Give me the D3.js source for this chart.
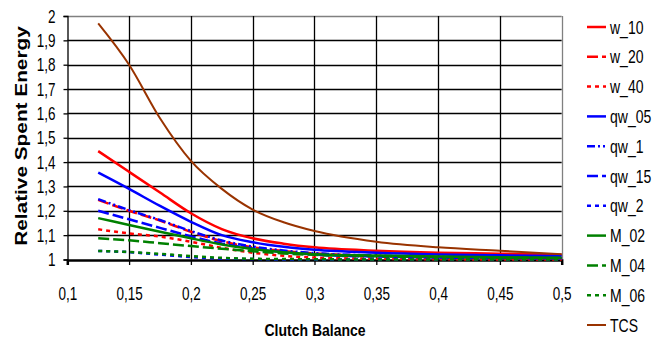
<!DOCTYPE html>
<html>
<head>
<meta charset="utf-8">
<script src="https://cdn.jsdelivr.net/npm/d3@7"></script>
<style>
  body { margin: 0; background: #fff; }
  svg text { font-family: "Liberation Sans", Arial, sans-serif; }
</style>
</head>
<body>
<div id="chart"></div>
<script>
// clutch balance values where the curves are sampled
const balance = [0.125, 0.15, 0.175, 0.2, 0.225, 0.25, 0.275, 0.3, 0.35, 0.4, 0.45, 0.5];

const w_10  = [1.445, 1.36, 1.275, 1.19, 1.125, 1.087, 1.065, 1.05, 1.036, 1.028, 1.024, 1.019];
const w_20  = [1.245, 1.2, 1.16, 1.114, 1.075, 1.05, 1.035, 1.025, 1.015, 1.01, 1.007, 1.005];
const w_40  = [1.124, 1.107, 1.094, 1.073, 1.048, 1.028, 1.015, 1.008, 1.003, 1.001, 1.0, 1.0];
const qw_05 = [1.357, 1.29, 1.22, 1.155, 1.1, 1.071, 1.052, 1.04, 1.028, 1.021, 1.017, 1.014];
const qw_1  = [1.248, 1.203, 1.162, 1.117, 1.078, 1.053, 1.037, 1.026, 1.016, 1.011, 1.008, 1.006];
const qw_15 = [1.2, 1.165, 1.13, 1.095, 1.065, 1.045, 1.03, 1.02, 1.012, 1.008, 1.006, 1.005];
const qw_2  = [1.035, 1.03, 1.02, 1.01, 1.004, 1.002, 1.0, 1.0, 1.0, 1.0, 1.0, 1.0];
const M_02  = [1.17, 1.142, 1.114, 1.087, 1.062, 1.043, 1.03, 1.022, 1.016, 1.012, 1.009, 1.007];
const M_04  = [1.087, 1.079, 1.067, 1.055, 1.044, 1.034, 1.025, 1.019, 1.013, 1.01, 1.008, 1.006];
const M_06  = [1.035, 1.031, 1.023, 1.014, 1.007, 1.003, 1.002, 1.001, 1.0, 1.0, 1.0, 1.0];
const TCS   = [1.97, 1.8, 1.58, 1.405, 1.29, 1.205, 1.153, 1.117, 1.073, 1.05, 1.036, 1.022];

const seriesNames = ["w_10", "w_20", "w_40", "qw_05", "qw_1", "qw_15", "qw_2", "M_02", "M_04", "M_06", "TCS"];
const seriesValues = [w_10, w_20, w_40, qw_05, qw_1, qw_15, qw_2, M_02, M_04, M_06, TCS];

const xTicks = [0.1, 0.15, 0.2, 0.25, 0.3, 0.35, 0.4, 0.45, 0.5];
const yTicks = [1, 1.1, 1.2, 1.3, 1.4, 1.5, 1.6, 1.7, 1.8, 1.9, 2];

// line looks
const colors = ["#ff0000", "#ff0000", "#ff0000", "#0000ff", "#0000ff", "#0000ff", "#0000ff", "#008000", "#008000", "#008000", "#993300"];
const dashes = [null, "11,4", "4,4", null, "8,3,2,3,2,3", "11,4", "4,4", null, "11,4", "4,4", null];

const W = 664, H = 340;
const plotLeft = 67.3, plotRight = 561.7, plotTop = 16, plotBottom = 259.5;
const stretch = 1.35; // text in the picture is drawn tall and narrow

const svg = d3.select("#chart").append("svg")
  .attr("width", W)
  .attr("height", H);

const x = d3.scaleLinear().domain([0.1, 0.5]).range([plotLeft, plotRight]);
const y = d3.scaleLinear().domain([1, 2]).range([plotBottom, plotTop]);

const fmt = d => String(+d.toFixed(2)).replace(".", ",");

// move the x/y of a text into a transform so it can be stretched in place
function tallText(sel, s) {
  sel.each(function () {
    const t = d3.select(this);
    const tx = +t.attr("x") || 0, ty = +t.attr("y") || 0;
    t.attr("x", 0).attr("y", 0)
      .attr("transform", "translate(" + tx + "," + ty + ") scale(1," + s + ")");
  });
}

// grid
svg.append("g")
  .selectAll("line")
  .data(yTicks.slice(1))
  .enter().append("line")
  .attr("x1", plotLeft).attr("x2", plotRight)
  .attr("y1", d => Math.round(y(d)) + 0.5)
  .attr("y2", d => Math.round(y(d)) + 0.5)
  .attr("stroke", d => d === 2 ? "#808080" : "#000")
  .attr("stroke-width", 1.3);

svg.append("g")
  .selectAll("line")
  .data(xTicks.slice(1))
  .enter().append("line")
  .attr("y1", plotTop).attr("y2", plotBottom)
  .attr("x1", d => Math.round(x(d)) + 0.5)
  .attr("x2", d => Math.round(x(d)) + 0.5)
  .attr("stroke", d => d === 0.5 ? "#808080" : "#000")
  .attr("stroke-width", 1.3);

// y axis
const yAxis = svg.append("g")
  .attr("transform", "translate(" + (Math.round(plotLeft) + 0.5) + ",0)")
  .call(d3.axisLeft(y).tickValues(yTicks).tickFormat(fmt).tickSize(4).tickPadding(8));
yAxis.select(".domain").attr("stroke", "#000").attr("stroke-width", 1.3);
yAxis.selectAll(".tick line").attr("stroke", "#000").attr("stroke-width", 1.3);
yAxis.selectAll("text").style("font-size", "13.5px").attr("fill", "#000")
  .attr("dy", "0.33em").call(tallText, stretch);

// x axis
const xAxis = svg.append("g")
  .attr("transform", "translate(0," + Math.round(plotBottom) + ")")
  .call(d3.axisBottom(x).tickValues(xTicks).tickFormat(fmt).tickSize(5).tickPadding(22));
xAxis.select(".domain").attr("stroke", "#000").attr("stroke-width", 2.5);
xAxis.selectAll(".tick line").attr("stroke", "#000").attr("stroke-width", 1.3);
xAxis.selectAll("text").style("font-size", "13.5px").attr("fill", "#000")
  .call(tallText, stretch);

// series
const line = d3.line()
  .x((d, i) => x(balance[i]))
  .y(d => y(d))
  .curve(d3.curveMonotoneX);

svg.append("g")
  .selectAll("path")
  .data(seriesValues)
  .enter().append("path")
  .attr("d", line)
  .attr("fill", "none")
  .attr("stroke", (d, i) => colors[i])
  .attr("stroke-width", (d, i) => i === 10 ? 2 : 2.5)
  .attr("stroke-dasharray", (d, i) => dashes[i]);

// legend
const legend = svg.append("g")
  .selectAll("g")
  .data(seriesNames)
  .enter().append("g")
  .attr("transform", (d, i) => "translate(587," + (27 + i * 29.8) + ")");

legend.append("line")
  .attr("x1", 0).attr("x2", 19)
  .attr("stroke", (d, i) => colors[i])
  .attr("stroke-width", (d, i) => i === 10 ? 2 : 2.5)
  .attr("stroke-dasharray", (d, i) => dashes[i]);

legend.append("text")
  .attr("x", 23)
  .attr("dy", "0.36em")
  .style("font-size", "14px")
  .call(tallText, 1.3);

legend.selectAll("text").text(d => d);

// axis titles
svg.append("text")
  .attr("transform", "translate(315,336) scale(1,1.2)")
  .attr("text-anchor", "middle")
  .style("font-size", "14px")
  .style("font-weight", "bold")
  .text("Clutch Balance");

svg.append("text")
  .attr("transform", "translate(26.5,136) rotate(-90) scale(1.3,1)")
  .attr("text-anchor", "middle")
  .style("font-size", "16px")
  .style("font-weight", "bold")
  .text("Relative Spent Energy");
</script>
</body>
</html>
